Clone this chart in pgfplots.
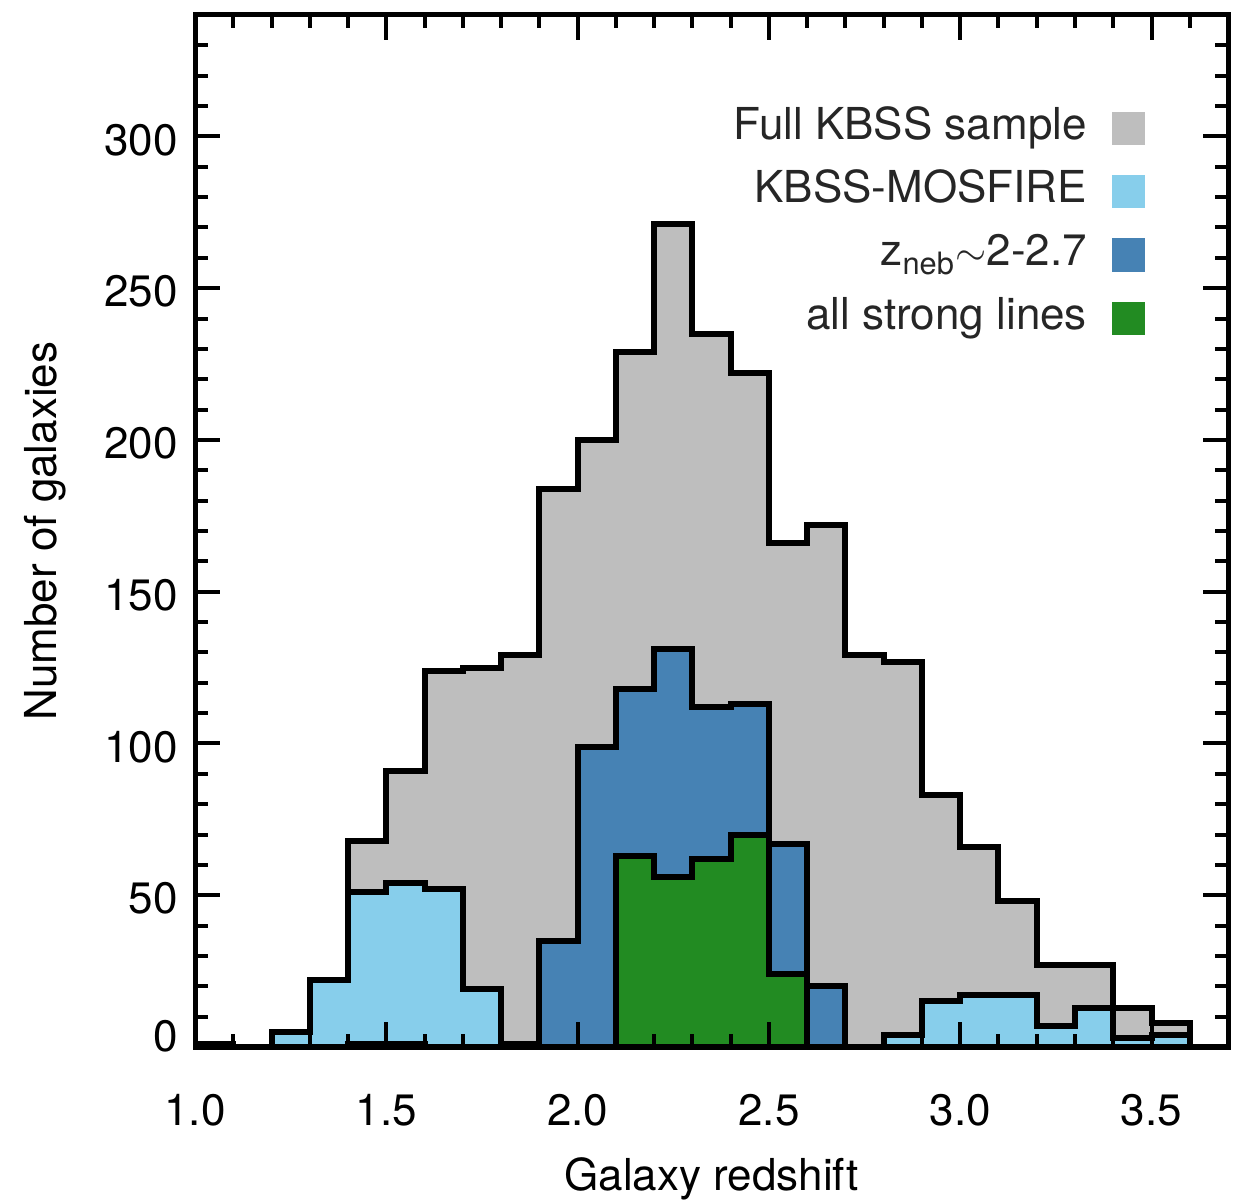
\documentclass[border=0pt]{standalone}
\usepackage{pgfplots}
\pgfplotsset{compat=1.18}
\usepackage{fontspec}
\setmainfont{TeX Gyre Heros}

\definecolor{fullgray}{RGB}{190,190,190}
\definecolor{mosfire}{RGB}{135,206,235}
\definecolor{zneb}{RGB}{70,130,180}
\definecolor{strong}{RGB}{34,139,34}

\begin{document}
\begin{tikzpicture}[font=\fontsize{13.2}{15.8}\selectfont]
\begin{axis}[
  name=ax,
  scale only axis,
  width=309.9pt, height=309.6pt,
  xmin=1.0, xmax=3.7,
  ymin=0, ymax=340,
  const plot,
  axis on top,
  axis line style={line width=1.5pt},
  tick align=inside,
  tick pos=both,
  xtick={1,1.5,2,2.5,3,3.5},
  xticklabels={1.0,1.5,2.0,2.5,3.0,3.5},
  minor xtick={1.1,1.2,1.3,1.4,1.6,1.7,1.8,1.9,2.1,2.2,2.3,2.4,2.6,2.7,2.8,2.9,3.1,3.2,3.3,3.4,3.6},
  ytick={0,50,100,150,200,250,300},
  yticklabels={\raisebox{4.2pt}[\height][0pt]{0},50,100,150,200,250,300},
  minor ytick={10,20,30,40,60,70,80,90,110,120,130,140,160,170,180,190,210,220,230,240,260,270,280,290,310,320,330},
  major tick length=7.5pt,
  minor tick length=3.9pt,
  every tick/.style={black, line width=1.2pt},
  xticklabel style={yshift=-10.6pt},
  yticklabel style={xshift=-1.6pt, yshift=-1pt},
  xlabel={Galaxy redshift},
  ylabel={Number of galaxies},
  xlabel style={at={(axis description cs:0.5,-0.1386)}, anchor=base},
  ylabel style={at={(axis description cs:-0.1336,0.5)}, anchor=base, rotate=0},
  legend plot pos=right,
  legend cell align=right,
  legend image code/.code={\fill[#1, draw=none] (0pt,-5pt) rectangle (10pt,5pt);},
  legend style={draw=none, fill=none, inner sep=0pt,
    at={(rel axis cs:0.9206,0.9109)}, anchor=north east,
    row sep=6.5pt, column sep=7.5pt,
    nodes={inner sep=0pt, text height=9.5pt, text depth=3pt},
    text=black!85},
]
% full KBSS sample (bin left edges, counts)
\addplot[fill=fullgray, draw=black, line width=1.8pt] table {
x y
1.0 1
1.1 0
1.2 5
1.3 22
1.4 68
1.5 91
1.6 124
1.7 125
1.8 129
1.9 184
2.0 200
2.1 229
2.2 271
2.3 235
2.4 222
2.5 166
2.6 172
2.7 129
2.8 127
2.9 83
3.0 66
3.1 48
3.2 27
3.3 27
3.4 13
3.5 8
3.6 0
3.7 0
} \closedcycle;
\addlegendentry{Full KBSS sample}

% KBSS-MOSFIRE
\addplot[fill=mosfire, draw=black, line width=1.8pt] table {
x y
1.2 5
1.3 22
1.4 51
1.5 54
1.6 52
1.7 19
1.8 1
1.9 0
2.0 0
2.1 0
2.2 0
2.3 0
2.4 0
2.5 0
2.6 0
2.7 0
2.8 4
2.9 15
3.0 17
3.1 17
3.2 7
3.3 13
3.4 3
3.5 4
3.6 0
3.7 0
} \closedcycle;
\addlegendentry{KBSS-MOSFIRE}

% nebular redshifts, z ~ 2-2.7
\addplot[fill=zneb, draw=black, line width=1.8pt] table {
x y
1.0 1
1.1 0
1.2 0
1.3 0
1.4 1
1.5 1
1.6 0
1.7 0
1.8 0
1.9 35
2.0 99
2.1 118
2.2 131
2.3 112
2.4 113
2.5 67
2.6 20
2.7 0
2.8 0
} \closedcycle;
\addlegendentry{z\textsubscript{neb}$\sim$2-2.7}

% all strong lines measured
\addplot[fill=strong, draw=black, line width=1.8pt] table {
x y
2.1 63
2.2 56
2.3 62
2.4 70
2.5 24
2.6 0
2.7 0
} \closedcycle;
\addlegendentry{all strong lines}
\end{axis}
\pgfresetboundingbox
\path ([xshift=-58.5pt, yshift=-46.2pt]ax.south west) rectangle ([xshift=4.5pt, yshift=4.5pt]ax.north east);
\end{tikzpicture}
\end{document}
